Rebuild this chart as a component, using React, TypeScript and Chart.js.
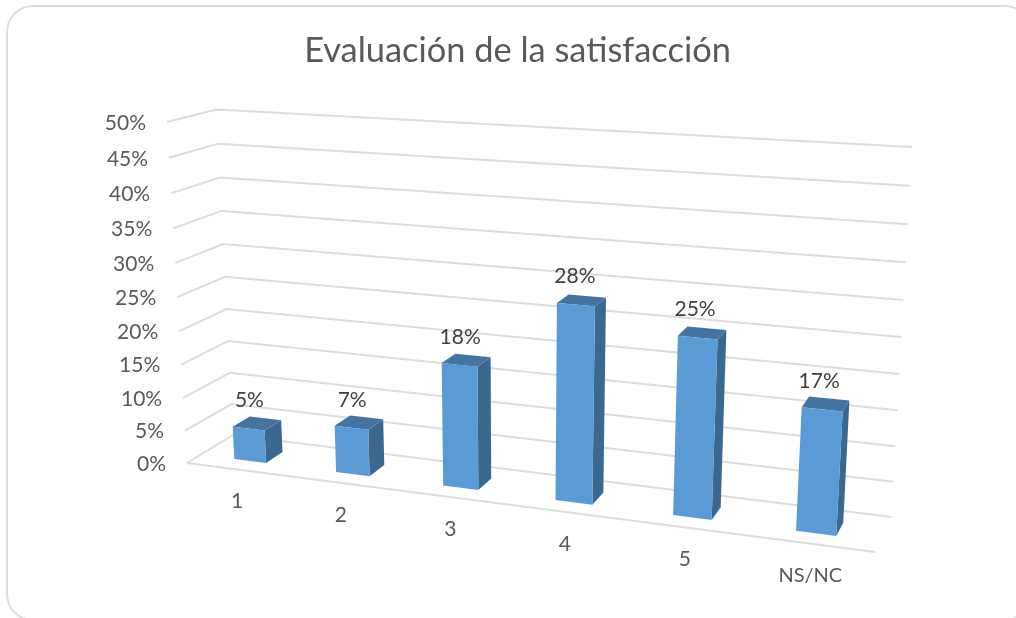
import React, { useEffect, useRef } from "react";
import { Chart, registerables } from "chart.js";

Chart.register(...registerables);

const categories = ["1", "2", "3", "4", "5", "NS/NC"];
const values = [5, 7, 18, 28, 25, 17];
const chartTitle = "Evaluación de la satisfacción";
const axisMax = 50;
const axisStep = 5;

const TEXT = "#595959";
const DATA_TEXT = "#404040";
const GRID = "#DCDCDC";
const FRONT = "#5B9BD5";
const SIDE = "#3B688F";
const TOP = "#44749F";
const FONT = "Lato, Carlito, sans-serif";

// Projection of the unit box (u across, v up, w into the page) onto the canvas.
type P = [number, number];
const BOX = {
  flb: [187, 463] as P, frb: [875, 552] as P, blb: [233, 435] as P, brb: [891.5, 517] as P,
  flt: [167, 122] as P, frt: [898, 164] as P, blt: [216.5, 109.5] as P, brt: [912, 147] as P,
};
const mix = (a: P, b: P, t: number): P => [a[0] + (b[0] - a[0]) * t, a[1] + (b[1] - a[1]) * t];
function project(uRaw: number, vRaw: number, w: number): P {
  const u = uRaw * 0.86 + 0.14 * uRaw * uRaw;
  const v = vRaw * 0.945 + 0.055 * vRaw * vRaw;
  const bottom = mix(mix(BOX.flb, BOX.frb, u), mix(BOX.blb, BOX.brb, u), w);
  const top = mix(mix(BOX.flt, BOX.frt, u), mix(BOX.blt, BOX.brt, u), w);
  return mix(bottom, top, v);
}
const DEPTH_FRONT = 0.3;
const DEPTH_BACK = 0.68;

function poly(ctx: CanvasRenderingContext2D, pts: P[], fill: string) {
  ctx.beginPath();
  pts.forEach((p, i) => (i ? ctx.lineTo(p[0], p[1]) : ctx.moveTo(p[0], p[1])));
  ctx.closePath();
  ctx.fillStyle = fill;
  ctx.fill();
}

const scene3d = {
  id: "scene3d",
  beforeDraw(chart: any) {
    const ctx = chart.ctx as CanvasRenderingContext2D;
    ctx.save();
    ctx.fillStyle = "#FFFFFF";
    ctx.fillRect(0, 0, chart.width, chart.height);
    ctx.beginPath();
    ctx.roundRect(7, 6, 1024, 614, 26);
    ctx.strokeStyle = "#DDDDDD";
    ctx.lineWidth = 2;
    ctx.stroke();
    ctx.restore();
  },
  beforeDatasetsDraw(chart: any) {
    const ctx = chart.ctx as CanvasRenderingContext2D;
    const { x: xs, y: ys } = chart.scales;
    const area = chart.chartArea;
    const toU = (px: number) => (px - area.left) / (area.right - area.left);
    const toV = (px: number) => (area.bottom - px) / (area.bottom - area.top);

    ctx.save();
    // walls and floor
    ctx.strokeStyle = GRID;
    ctx.lineWidth = 2;
    ys.getTicks().forEach((t: any) => {
      const v = toV(ys.getPixelForValue(t.value));
      const a = project(0, v, 0), b = project(0, v, 1), c = project(1, v, 1);
      ctx.beginPath();
      ctx.moveTo(a[0], a[1]);
      ctx.lineTo(b[0], b[1]);
      ctx.lineTo(c[0], c[1]);
      ctx.stroke();
    });
    const f0 = project(0, 0, 0), f1 = project(1, 0, 0);
    ctx.beginPath();
    ctx.moveTo(f0[0], f0[1]);
    ctx.lineTo(f1[0], f1[1]);
    ctx.stroke();

    // axis labels
    ctx.font = `21px ${FONT}`;
    ctx.fillStyle = TEXT;
    ctx.textBaseline = "middle";
    ctx.textAlign = "right";
    ys.getTicks().forEach((t: any) => {
      const p = project(0, toV(ys.getPixelForValue(t.value)), 0);
      ctx.fillText(t.label, p[0] - 21, p[1] + 1);
    });
    ctx.textAlign = "center";
    xs.getTicks().forEach((t: any, i: number) => {
      const p = project(toU(xs.getPixelForTick(i)), 0, 0);
      const label = xs.getLabelForValue(t.value);
      ctx.font = label.length > 1 ? `20px ${FONT}` : `21px ${FONT}`;
      ctx.fillText(label, p[0], p[1] + 32);
    });

    // bars
    const meta = chart.getDatasetMeta(0);
    const ds = chart.data.datasets[0];
    meta.data.forEach((bar: any, i: number) => {
      const { x, y, base, width } = bar.getProps(["x", "y", "base", "width"], true);
      const uL = toU(x - width / 2), uR = toU(x + width / 2);
      const v0 = toV(base), v1 = toV(y);
      const fbl = project(uL, v0, DEPTH_FRONT), fbr = project(uR, v0, DEPTH_FRONT);
      const ftl = project(uL, v1, DEPTH_FRONT), ftr = project(uR, v1, DEPTH_FRONT);
      const bbr = project(uR, v0, DEPTH_BACK), btr = project(uR, v1, DEPTH_BACK);
      const btl = project(uL, v1, DEPTH_BACK);
      poly(ctx, [fbr, bbr, btr, ftr], SIDE);
      poly(ctx, [ftl, ftr, btr, btl], TOP);
      poly(ctx, [fbl, fbr, ftr, ftl], ds.backgroundColor);

      ctx.fillStyle = DATA_TEXT;
      ctx.textAlign = "center";
      ctx.font = `21px ${FONT}`;
      const cx = (fbl[0] + fbr[0] + ftl[0] + ftr[0]) / 4;
      const cy = (ftl[1] + ftr[1]) / 2 - 28;
      ctx.fillText(`${values[i]}%`, cx, cy);
    });
    ctx.restore();
    return false; // the bars are already painted, projected
  },
};

export default function App() {
  const ref = useRef<HTMLCanvasElement>(null);
  useEffect(() => {
    const chart = new Chart(ref.current!, {
      type: "bar",
      data: {
        labels: categories,
        datasets: [{ label: chartTitle, data: values, backgroundColor: FRONT, barPercentage: 0.318, categoryPercentage: 1 }],
      },
      options: {
        responsive: false,
        animation: false,
        layout: { padding: { left: 11, right: 0, top: 0, bottom: 10 } },
        plugins: {
          legend: { display: false },
          tooltip: { enabled: false },
          title: {
            display: true,
            text: chartTitle,
            color: TEXT,
            fullSize: false,
            font: { family: FONT, size: 34.4, weight: "normal" },
            padding: { top: 30, bottom: 20 },
          },
        },
        scales: {
          x: { ticks: { display: false }, grid: { display: false }, border: { display: false } },
          y: {
            min: 0,
            max: axisMax,
            ticks: { display: false, stepSize: axisStep, callback: (v: any) => `${v}%` },
            grid: { display: false },
            border: { display: false },
          },
        },
      },
      plugins: [scene3d],
    } as any);
    return () => chart.destroy();
  }, []);
  return (
    <div style={{ position: "fixed", left: 0, top: 0, width: 1016, height: 618, background: "#fff" }}>
      <canvas ref={ref} width={1016} height={618} style={{ display: "block" }} />
    </div>
  );
}
